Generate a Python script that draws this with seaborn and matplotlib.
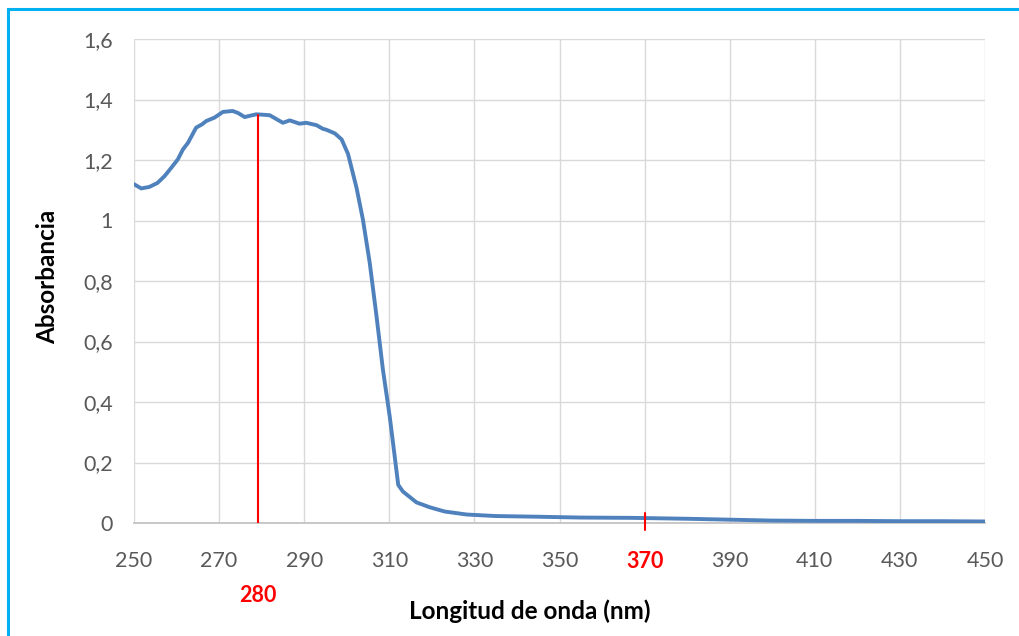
import matplotlib
matplotlib.use("Agg")
import matplotlib.pyplot as plt
import seaborn as sns
import pandas as pd
from matplotlib.patches import Rectangle
from matplotlib.ticker import FuncFormatter

wavelength = [250, 251.7, 253.6, 255.5, 257.2, 258.8, 260.3, 261.5, 262.7, 264.6, 266, 267,
              268.9, 270.9, 273.2, 274.5, 276, 278.7, 280, 281.9, 283.5, 285, 286.6, 288.9,
              290.5, 292.9, 294.4, 295.2, 297.2, 298.8, 300.3, 302.3, 303.8, 305.4, 307,
              308.5, 310.1, 312.1, 313.2, 316.4, 319.5, 323, 328.2, 335, 343.8, 355, 367,
              380, 390, 400, 410, 420, 430, 440, 450]
absorbance = [1.12, 1.106, 1.111, 1.124, 1.147, 1.175, 1.202, 1.235, 1.257, 1.307, 1.318, 1.329,
              1.34, 1.359, 1.362, 1.355, 1.342, 1.351, 1.35, 1.348, 1.335, 1.323, 1.331, 1.32,
              1.323, 1.315, 1.303, 1.30, 1.288, 1.268, 1.22, 1.108, 1.003, 0.86, 0.683,
              0.507, 0.352, 0.126, 0.104, 0.068, 0.052, 0.038, 0.028, 0.023, 0.021, 0.018, 0.017,
              0.014, 0.011, 0.008, 0.007, 0.007, 0.006, 0.006, 0.005]

x_ticks = list(range(250, 451, 20))
y_ticks = [0, 0.2, 0.4, 0.6, 0.8, 1.0, 1.2, 1.4, 1.6]
peak_line_wl = 279.2
peak_abs = 1.35
peak_label = "280"
mark_wl = 370

sns.set_theme(style="whitegrid")
plt.rcParams['font.family'] = ['Lato', 'DejaVu Sans']

W, H = 1019, 636
fig = plt.figure(figsize=(W / 100, H / 100), dpi=100)
ax = fig.add_axes([134 / W, 1 - 523 / H, (985 - 134) / W, (523 - 39) / H])

df = pd.DataFrame({"wl": wavelength, "abs": absorbance})
sns.lineplot(data=df, x="wl", y="abs", ax=ax, color="#4F81BD", linewidth=2.8,
             solid_capstyle="round", solid_joinstyle="round", zorder=3)

ax.set_xlim(250, 450)
ax.set_ylim(0, 1.6)
ax.set_xticks(x_ticks)
ax.set_yticks(y_ticks)
ax.yaxis.set_major_formatter(FuncFormatter(
    lambda v, p: ("%g" % round(v, 1)).replace(".", ",")))
ax.grid(True, color="#D9D9D9", linewidth=1.0)
ax.set_facecolor("white")
for side in ["left", "top", "right"]:
    ax.spines[side].set_visible(False)
ax.spines["bottom"].set_color("#BFBFBF")
ax.spines["bottom"].set_linewidth(1.2)
ax.tick_params(axis="both", length=0, labelsize=15.5, labelcolor="#595959")
ax.tick_params(axis="x", pad=20)
ax.tick_params(axis="y", pad=15)

for lbl in ax.get_xticklabels():
    if lbl.get_text() == str(mark_wl):
        lbl.set_color("red")
        lbl.set_fontweight("bold")

# red markers
ax.plot([peak_line_wl, peak_line_wl], [0, peak_abs], color="red", linewidth=1.5, zorder=4)
ax.plot([mark_wl, mark_wl], [0.033, -0.023], color="red", linewidth=1.5, zorder=4,
        clip_on=False)
ax.text(peak_line_wl, -0.24, peak_label, color="red", fontweight="bold", fontsize=15.5,
        ha="center", va="center", transform=ax.transData)

ax.set_xlabel("Longitud de onda (nm)", fontsize=17.5, fontweight="bold", color="black")
ax.xaxis.set_label_coords(0.465, -0.182)
ax.xaxis.label.set_verticalalignment("center")
ax.set_ylabel("Absorbancia", fontsize=17.5, fontweight="bold", color="black")
ax.yaxis.set_label_coords(-0.102, 0.508)
ax.yaxis.label.set_verticalalignment("center")

fig.patches.append(Rectangle((8 / W, -0.1), 1.2, 1 - 9 / H + 0.1, transform=fig.transFigure,
                             fill=False, edgecolor="#00B0F0", linewidth=2.2))

fig.savefig("out.png", dpi=100, facecolor="white")
